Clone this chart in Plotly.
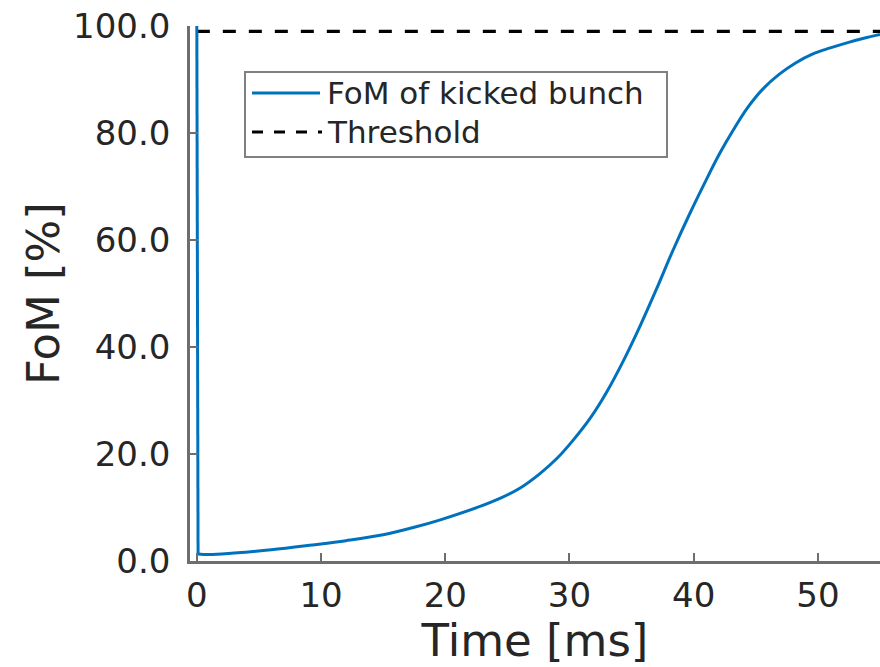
import plotly.graph_objects as go

# ---- data ----
time_ms = [0, 0.1, 1, 3, 6, 9.3, 12, 15, 17.5, 19.6, 22.8, 24.4, 26, 27.6, 29,
           30.3, 31.7, 33, 34.4, 35.7, 37, 38.3, 39.7, 41, 42.1, 43.2, 44.3,
           45.6, 46.9, 48.2, 49.6, 51, 52.4, 53.7, 55]
fom_pct = [100, 1.3, 1.2, 1.5, 2.1, 3.0, 3.8, 4.9, 6.3, 7.7, 10.2, 11.7, 13.6, 16.3, 19.2,
           22.6, 26.8, 31.6, 37.7, 44.0, 50.8, 57.9, 65.0, 71.2, 76.2, 80.6, 84.6,
           88.3, 91.0, 93.1, 94.8, 95.9, 96.9, 97.7, 98.4]
threshold_x = [0, 55]
threshold_y = [99, 99]

x_ticks = [0, 10, 20, 30, 40, 50]
y_ticks = [0, 20, 40, 60, 80, 100]

legend_labels = ["FoM of kicked bunch", "Threshold"]

BLUE = "#0072BD"
TXT = "#262626"
AX = "#6e6e6e"
FONT = "DejaVu Sans"

# plot-area pixel geometry
L, R, T, B = 190, 880, 26, 561
W, H = 880, 667


def px(xp):
    return (xp - L) / (R - L)


def py(yp):
    return (B - yp) / (B - T)


fig = go.Figure()
fig.add_trace(go.Scatter(x=threshold_x, y=threshold_y, mode="lines",
                         line=dict(color="black", width=3.2, dash="13px,13px"),
                         name=legend_labels[1], showlegend=False))
# initial drop (kick) drawn straight, then the smooth recovery
fig.add_trace(go.Scatter(x=time_ms[:2], y=fom_pct[:2], mode="lines",
                         line=dict(color=BLUE, width=3),
                         name=legend_labels[0], showlegend=False))
fig.add_trace(go.Scatter(x=time_ms[1:], y=fom_pct[1:], mode="lines",
                         line=dict(color=BLUE, width=3, shape="spline", smoothing=1),
                         name=legend_labels[0], showlegend=False))

# custom legend (box, samples, labels)
shapes = [
    dict(type="rect", xref="paper", yref="paper",
         x0=px(245), x1=px(667), y0=py(157), y1=py(72),
         line=dict(color="#808080", width=2), fillcolor="white", layer="above"),
    dict(type="line", xref="paper", yref="paper",
         x0=px(252), x1=px(320), y0=py(93), y1=py(93),
         line=dict(color=BLUE, width=3), layer="above"),
    dict(type="line", xref="paper", yref="paper",
         x0=px(252), x1=px(322), y0=py(132), y1=py(132),
         line=dict(color="black", width=3.2, dash="11px,11px"), layer="above"),
]
annotations = [
    dict(text=legend_labels[0], xref="paper", yref="paper", x=px(325), y=py(93),
         xanchor="left", yanchor="middle", showarrow=False,
         font=dict(family=FONT, size=31, color=TXT)),
    dict(text=legend_labels[1], xref="paper", yref="paper", x=px(325), y=py(132),
         xanchor="left", yanchor="middle", showarrow=False,
         font=dict(family=FONT, size=31, color=TXT)),
]

fig.update_layout(
    width=W, height=H,
    margin=dict(l=L, r=W - R, t=T, b=H - B),
    paper_bgcolor="white", plot_bgcolor="white",
    shapes=shapes, annotations=annotations,
    font=dict(family=FONT, color=TXT),
)
fig.update_xaxes(
    range=[-0.55, 55.0], tickvals=x_ticks, showgrid=False, zeroline=False,
    showline=True, linecolor=AX, linewidth=2.5,
    ticks="inside", ticklen=8, tickwidth=2, tickcolor=AX,
    tickfont=dict(family=FONT, size=34, color=TXT), ticklabelstandoff=2,
    title=dict(text="Time [ms]", font=dict(family=FONT, size=45, color=TXT), standoff=0),
)
fig.update_yaxes(
    range=[0, 100], tickvals=y_ticks, tickformat=".1f", showgrid=False, zeroline=False,
    showline=True, linecolor=AX, linewidth=2.5,
    ticks="inside", ticklen=8, tickwidth=2, tickcolor=AX,
    tickfont=dict(family=FONT, size=34, color=TXT), ticklabelstandoff=10,
    title=dict(text="FoM [%]", font=dict(family=FONT, size=45, color=TXT), standoff=0),
)

fig.write_html("out.html")
